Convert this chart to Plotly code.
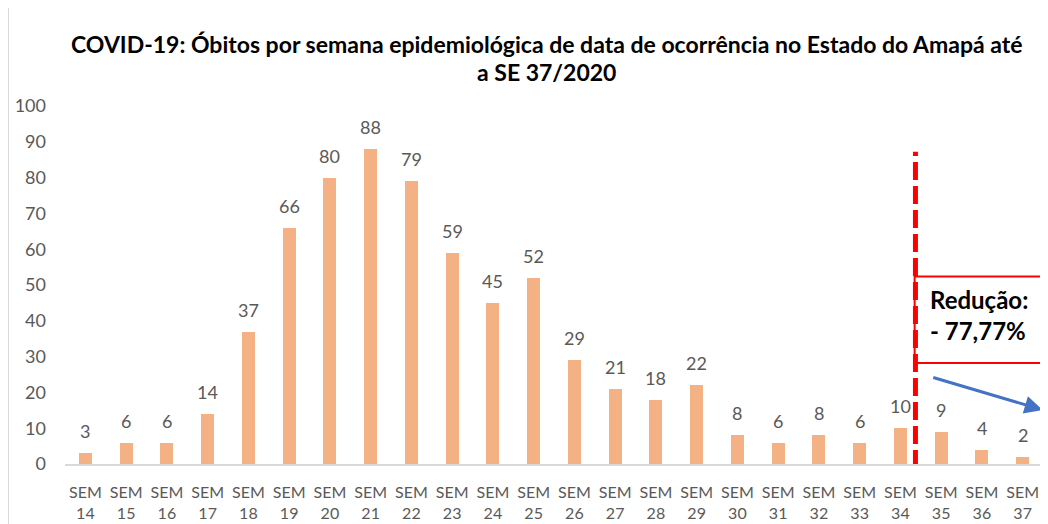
import plotly.graph_objects as go

weeks = [f"SEM<br>{w}" for w in range(14, 38)]
deaths = [3, 6, 6, 14, 37, 66, 80, 88, 79, 59, 45, 52, 29, 21, 18, 22, 8, 6, 8, 6, 10, 9, 4, 2]
title_lines = ["COVID-19: Óbitos por semana epidemiológica de data de ocorrência no Estado do Amapá até",
               "a SE 37/2020"]
box_text = "Redução:<br>- 77,77%"

xs = list(range(len(deaths)))
gray = "#595959"
FONT = "Lato"

# The browser's default body margin (8px) offsets the figure; compensate.
OFF = 8
PW, PH = 1048, 524
W, H = PW - OFF, PH - OFF
L, R, T, B = 65 - OFF, 4.5, 106 - OFF, 60
plot_h = H - T - B
plot_w = W - L - R


def py(page_y):
    """page pixel y -> paper coordinate"""
    return ((PH - B) - page_y) / plot_h


def px(page_x):
    return (page_x - 65) / plot_w


fig = go.Figure()
fig.add_trace(go.Bar(
    x=xs, y=deaths, width=0.32,
    marker=dict(color="#F4B183", line=dict(width=0)),
    hoverinfo="x+y",
))

for x, y in zip(xs, deaths):
    fig.add_annotation(x=x, y=y, text=str(y), xref="x", yref="y",
                       yanchor="middle", yshift=22, showarrow=False,
                       font=dict(family=FONT, size=18, color=gray))

fig.update_layout(
    width=W, height=H,
    margin=dict(l=L, r=R, t=T, b=B, autoexpand=False),
    plot_bgcolor="white", paper_bgcolor="white",
    showlegend=False,
    bargap=0,
    xaxis=dict(
        range=[-0.5, len(deaths) - 0.5],
        tickmode="array", tickvals=xs, ticktext=weeks,
        tickfont=dict(family=FONT, size=16, color=gray),
        showgrid=False, zeroline=False,
        showline=True, linecolor="#D9D9D9", linewidth=1.5,
        ticks="", ticklabelstandoff=13, automargin=False,
    ),
    yaxis=dict(
        range=[0, 100], tickmode="linear", dtick=10,
        tickfont=dict(family=FONT, size=18, color=gray),
        showgrid=False, zeroline=False, ticks="",
        ticklabelstandoff=18, automargin=False,
    ),
    font=dict(family=FONT),
)

# Title (two centred lines)
for line, yc in zip(title_lines, [44, 72]):
    fig.add_annotation(
        text="<b>" + line + "</b>",
        xref="paper", yref="paper",
        x=px(547), y=py(yc),
        xanchor="center", yanchor="middle",
        showarrow=False, align="center",
        font=dict(family=FONT, size=23, color="black"),
    )

# Left border line
fig.add_shape(type="line", xref="paper", yref="paper",
              x0=px(8.5), x1=px(8.5), y0=py(524), y1=py(8),
              line=dict(color="#D9D9D9", width=1))

# Red dashed vertical divider
fig.add_shape(type="line", xref="x", yref="y",
              x0=20.37, x1=20.37, y0=-1.1, y1=87.2,
              line=dict(color="#FF0000", width=5, dash="18px,6px"))

# Red box
fig.add_shape(type="rect", xref="x", yref="y",
              x0=20.35, x1=23.9, y0=28.2, y1=52.4,
              line=dict(color="#FF0000", width=2),
              fillcolor="rgba(255,255,255,0)")

fig.add_annotation(
    text="<b>" + box_text + "</b>", xref="x", yref="y",
    x=20.67, y=41.6, xanchor="left", yanchor="middle",
    showarrow=False, align="left",
    font=dict(family=FONT, size=24, color="black"),
)

# Blue arrow
fig.add_annotation(
    x=23.49, y=15.1, ax=20.77, ay=24.3,
    xref="x", yref="y", axref="x", ayref="y",
    showarrow=True, arrowhead=2, arrowsize=1.2, arrowwidth=3,
    arrowcolor="#4472C4", text="",
)

fig.write_html("out.html")
